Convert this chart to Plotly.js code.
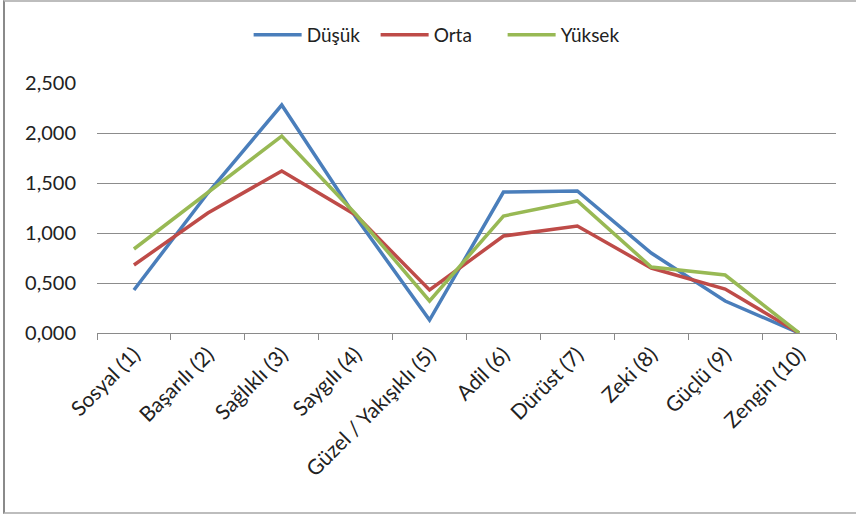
<!DOCTYPE html>
<html>
<head>
<meta charset="utf-8">
<script src="https://cdn.plot.ly/plotly-3.0.1.min.js"></script>
<style>
html,body{margin:0;padding:0;background:#fff;}
#wrap{position:relative;width:856px;height:518px;}
#chart{width:856px;height:518px;}
#frame{position:absolute;left:3px;top:0;width:853px;height:514px;border-left:2px solid #8a8a8a;border-top:2px solid #bdbdbd;border-bottom:2px solid #bdbdbd;pointer-events:none;box-sizing:border-box;}
</style>
</head>
<body>
<div id="wrap"><div id="chart"></div><div id="frame"></div></div>
<script>
const categories = ["Sosyal (1)","Başarılı (2)","Sağlıklı (3)","Saygılı (4)","Güzel / Yakışıklı (5)","Adil (6)","Dürüst (7)","Zeki (8)","Güçlü (9)","Zengin (10)"];
const dusuk  = [0.43, 1.40, 2.28, 1.16, 0.13, 1.41, 1.42, 0.80, 0.32, 0.00];
const orta   = [0.68, 1.20, 1.62, 1.18, 0.43, 0.97, 1.07, 0.65, 0.44, 0.00];
const yuksek = [0.84, 1.41, 1.97, 1.19, 0.32, 1.17, 1.32, 0.66, 0.58, 0.00];
const seriesNames = ["Düşük","Orta","Yüksek"];
const colors = ["#4a7ebb","#be4b48","#98b954"];
const yTicks = [0, 0.5, 1, 1.5, 2, 2.5];

const data = [dusuk, orta, yuksek].map((v,i)=>({
  type:"scatter", mode:"lines", name:seriesNames[i], x:categories, y:v,
  line:{color:colors[i], width:3.5}
}));

const layout = {
  width:856, height:518,
  margin:{l:97, r:20, t:83, b:185, autoexpand:false},
  paper_bgcolor:"#fff", plot_bgcolor:"#fff",
  separators:",.",
  font:{family:"Lato, 'Open Sans', sans-serif", size:19, color:"#222"},
  showlegend:true,
  legend:{orientation:"h", x:0.513, xref:"container", xanchor:"center",
          y:1-35/518, yref:"container", yanchor:"middle",
          font:{size:19, color:"#222"}, itemwidth:48, entrywidth:64,
          traceorder:"normal"},
  xaxis:{type:"category", tickson:"boundaries", ticks:"outside", ticklen:6,
         tickcolor:"#8a8a8a", showline:true, linecolor:"#8a8a8a", linewidth:1,
         showgrid:false, tickangle:-45, tickfont:{size:21, color:"#222"},
         range:[-0.5, 9.5], zeroline:false, automargin:false},
  yaxis:{range:[0,2.5], tickvals:yTicks, tickformat:".3f", showgrid:true,
         gridcolor:"#8c8c8c", gridwidth:1, zeroline:false, showline:false,
         ticks:"", ticklen:0, ticklabelstandoff:20, automargin:false,
         tickfont:{size:20, color:"#222"}}
};
Plotly.newPlot("chart", data, layout, {displayModeBar:false, staticPlot:true});
</script>
</body>
</html>
